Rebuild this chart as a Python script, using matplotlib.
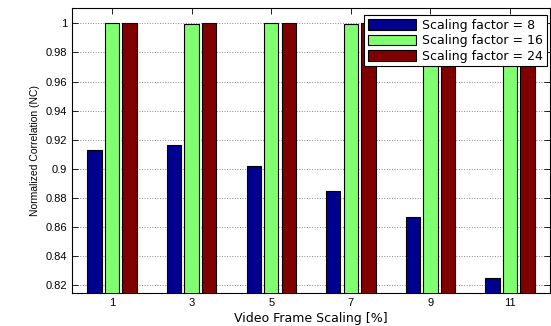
import numpy as np
import matplotlib
matplotlib.use("Agg")
import matplotlib.pyplot as plt

plt.rcParams["font.family"] = ["Liberation Sans", "DejaVu Sans"]

# data
scaling = [1, 3, 5, 7, 9, 11]
nc_8 = [0.913, 0.9167, 0.902, 0.885, 0.867, 0.8247]
nc_16 = [1.0, 0.9995, 1.0, 0.9995, 0.9995, 0.9995]
nc_24 = [1.0, 1.0, 1.0, 1.0, 1.0, 1.0]
labels = ["Scaling factor = 8", "Scaling factor = 16", "Scaling factor = 24"]
colors = ["#00008F", "#80FF70", "#800000"]

fig = plt.figure(figsize=(5.51, 3.26), dpi=100)
ax = fig.add_axes([0.131, 0.101, 0.867, 0.874])

x = np.array(scaling, dtype=float)
w = 0.36
off = 0.44
for i, (vals, lab, c) in enumerate(zip([nc_8, nc_16, nc_24], labels, colors)):
    ax.bar(x + (i - 1) * off, vals, width=w, color=c, edgecolor="black",
           linewidth=0.8, label=lab, zorder=3)

ax.set_xlim(0, 12)
ax.set_ylim(0.8145, 1.0105)
ax.set_xticks(scaling)
ax.set_yticks(np.arange(0.82, 1.001, 0.02))
ax.set_yticklabels(["0.82", "0.84", "0.86", "0.88", "0.9", "0.92", "0.94", "0.96", "0.98", "1"])
ax.tick_params(direction="in", top=True, right=True, labelsize=8, length=4, width=0.6)
ax.yaxis.grid(True, linestyle=":", color="#888888", linewidth=0.7, zorder=0)
for s in ax.spines.values():
    s.set_linewidth(0.8)

ax.set_xlabel("Video Frame Scaling [%]", fontsize=9, family="DejaVu Sans", labelpad=3)
ax.set_ylabel("Normalized Correlation (NC)", fontsize=7.5, labelpad=4)

leg = ax.legend(loc="upper right", prop={"family": "DejaVu Sans", "size": 9},
                frameon=True, fancybox=False,
                edgecolor="black", framealpha=1, handlelength=3.9, handleheight=0.9,
                borderpad=0.3, labelspacing=0.2, handletextpad=0.45,
                borderaxespad=0, bbox_to_anchor=(0.993, 0.976))
leg.get_frame().set_linewidth(0.8)
leg.set_zorder(5)

fig.savefig("out.png", dpi=100)
